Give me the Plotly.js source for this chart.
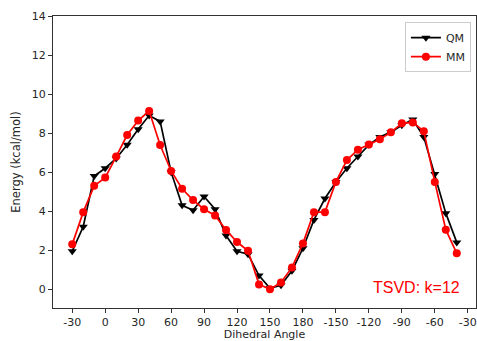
<!DOCTYPE html>
<html>
<head>
<meta charset="utf-8">
<script src="https://cdn.plot.ly/plotly-3.0.1.min.js"></script>
<style>html,body{margin:0;padding:0;background:#fff;}#chart{width:477px;height:341px;}</style>
</head>
<body>
<div id="chart"></div>
<script>
const angles = [-30,-20,-10,0,10,20,30,40,50,60,70,80,90,100,110,120,130,140,150,160,170,180,190,200,210,220,230,240,250,260,270,280,290,300,310,320];
const qm = [1.95,3.2,5.8,6.2,6.7,7.4,8.2,8.9,8.6,6.0,4.3,4.05,4.75,4.1,2.75,1.95,1.8,0.7,0.05,0.2,0.95,2.1,3.55,4.65,5.5,6.2,6.8,7.4,7.8,8.05,8.4,8.7,7.8,5.9,3.9,2.4];
const mm = [2.3,3.95,5.3,5.72,6.8,7.9,8.64,9.13,7.39,6.06,5.15,4.57,4.1,3.78,3.04,2.42,1.97,0.25,0.0,0.35,1.12,2.35,3.95,3.95,5.5,6.62,7.15,7.42,7.68,8.04,8.5,8.55,8.1,5.5,3.05,1.84];
const tickVals = [-30,0,30,60,90,120,150,180,210,240,270,300,330];
const tickText = ['-30','0','30','60','90','120','150','180','-150','-120','-90','-60','-30'];
const yTicks = [0,2,4,6,8,10,12,14];

const font = {family:'DejaVu Sans, sans-serif', size:11, color:'#262626'};
const titleFont = {family:'DejaVu Sans, sans-serif', size:11.5, color:'#262626'};
const traces = [
  {x:angles, y:qm, name:'QM', type:'scatter', mode:'lines+markers',
   line:{color:'#000000', width:1.7}, marker:{symbol:'triangle-down', size:8, color:'#000000'}},
  {x:angles, y:mm, name:'MM', type:'scatter', mode:'lines+markers',
   line:{color:'#ff0000', width:1.7}, marker:{symbol:'circle', size:8, color:'#ff0000'}}
];
const layout = {
  width:477, height:341,
  margin:{l:52.5, r:1, t:16, b:33},
  paper_bgcolor:'#fff', plot_bgcolor:'#fff',
  font:font,
  showlegend:true,
  legend:{x:0.988, y:0.979, xanchor:'right', yanchor:'top', bgcolor:'rgba(255,255,255,0.8)',
          bordercolor:'#cccccc', borderwidth:1, font:font,
          itemwidth:30, tracegroupgap:0},
  xaxis:{range:[-47.5,337.5], tickvals:tickVals, ticktext:tickText, showgrid:false, zeroline:false,
         showline:true, linecolor:'#333', linewidth:1, mirror:true, ticks:'outside', ticklen:4, tickcolor:'#333',
         title:{text:'Dihedral Angle', font:{family:'DejaVu Sans, sans-serif', size:11, color:'#262626'}, standoff:7},
         tickfont:font},
  yaxis:{range:[-0.96,14], tickvals:yTicks, showgrid:false, zeroline:false,
         showline:true, linecolor:'#333', linewidth:1, mirror:true, ticks:'outside', ticklen:4, tickcolor:'#333',
         title:{text:'Energy (kcal/mol)', font:titleFont, standoff:8},
         tickfont:font},
  annotations:[{text:'TSVD: k=12', xref:'paper', yref:'paper', x:0.966, y:0.07, xanchor:'right', yanchor:'middle',
                showarrow:false, font:{family:'Liberation Sans, Arial, sans-serif', size:16, color:'#ff0000'}}]
};
Plotly.newPlot('chart', traces, layout, {displayModeBar:false, staticPlot:true});
</script>
</body>
</html>
